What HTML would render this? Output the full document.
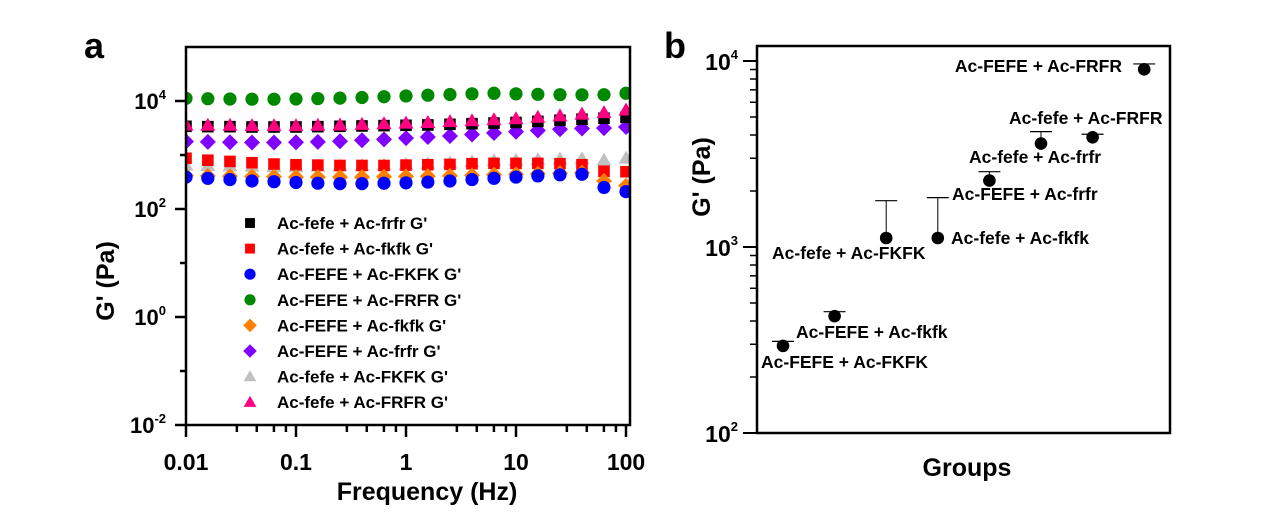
<!DOCTYPE html>
<html><head><meta charset="utf-8"><style>
body{margin:0;background:#fff;}
svg text{font-family:"Liberation Sans",Arial,sans-serif;font-weight:bold;}
</style></head><body>
<svg id="s" width="1271" height="508" xmlns="http://www.w3.org/2000/svg">
<defs><clipPath id="ca"><rect x="186" y="47" width="444" height="378"/></clipPath></defs>
<text x="84" y="58" font-size="36">a</text>
<text x="664" y="58" font-size="36">b</text>
<g id="pa"></g>
<g id="pb"></g>
</svg>
<script>
const freqs=[0.01,0.0158,0.0251,0.0398,0.0631,0.1,0.158,0.251,0.398,0.631,1,1.58,2.51,3.98,6.31,10,15.8,25.1,39.8,63.1,100];
const seriesNames=["Ac-fefe + Ac-frfr G'","Ac-fefe + Ac-fkfk G'","Ac-FEFE + Ac-FKFK G'","Ac-FEFE + Ac-FRFR G'","Ac-FEFE + Ac-fkfk G'","Ac-FEFE + Ac-frfr G'","Ac-fefe + Ac-FKFK G'","Ac-fefe + Ac-FRFR G'"];
const blackVals=[3400,3350,3350,3300,3300,3300,3350,3400,3450,3500,3550,3600,3700,3800,3900,4000,4200,4400,4600,4800,5000];
const redVals=[870,800,760,720,680,660,650,640,640,640,650,660,670,690,700,700,700,690,660,500,490];
const blueVals=[390,370,350,330,320,310,300,295,295,300,305,315,330,350,370,390,410,430,440,250,210];
const greenVals=[11200,11000,10900,10800,10800,10900,11100,11300,11600,12000,12400,12800,13200,13600,13900,13600,13300,13100,13000,13100,13900];
const orangeVals=[415,410,405,400,395,390,390,390,390,395,400,405,410,420,430,440,450,460,470,330,270];
const purpleVals=[1780,1750,1720,1700,1700,1720,1750,1800,1880,1950,2050,2150,2250,2400,2550,2700,2850,3000,3100,3150,3300];
const grayVals=[650,640,630,620,610,610,620,630,640,650,670,690,720,750,780,800,820,840,850,800,870];
const pinkVals=[3600,3550,3550,3500,3500,3500,3550,3600,3700,3800,3900,4000,4150,4300,4500,4700,5000,5300,5700,6100,6800];
const aXTicks=[0.01,0.1,1,10,100];
const aXTickLabels=["0.01","0.1","1","10","100"];
const aYTicks=[-2,0,2,4];

const groupNames=["Ac-FEFE + Ac-FKFK","Ac-FEFE + Ac-fkfk","Ac-fefe + Ac-FKFK","Ac-fefe + Ac-fkfk","Ac-FEFE + Ac-frfr","Ac-fefe + Ac-frfr","Ac-fefe + Ac-FRFR","Ac-FEFE + Ac-FRFR"];
const groupMeans=[294,425,1118,1118,2275,3600,3890,9020];
const groupErrTop=[311,449,1774,1842,2540,4170,4040,9640];
const bYTicks=[2,3,4];

const NS="http://www.w3.org/2000/svg";
function mk(p,t,a){const e=document.createElementNS(NS,t);for(const k in a)e.setAttribute(k,a[k]);p.appendChild(e);return e;}
const A=document.getElementById('pa');
const aL=186,aR=630,aT=47,aB=425;
const ax=v=>186+(Math.log10(v)+2)*110;
const ay=v=>101-(Math.log10(v)-4)*54;
const colors=["#000","#f00","#00f","#080","#ff8000","#8000ff","#c0c0c0","#ff0080"];
const shapes=["sq","sq","ci","ci","di","di","tr","tr"];
const allVals=[blackVals,redVals,blueVals,greenVals,orangeVals,purpleVals,grayVals,pinkVals];
function marker(p,shape,x,y,c,s){let e;
 if(shape==="sq")e=mk(p,'rect',{x:x-5.8*s,y:y-5.8*s,width:11.6*s,height:11.6*s,fill:c});
 else if(shape==="ci")e=mk(p,'circle',{cx:x,cy:y,r:6.6*s,fill:c});
 else if(shape==="di")e=mk(p,'polygon',{points:`${x},${y-8*s} ${x+8*s},${y} ${x},${y+8*s} ${x-8*s},${y}`,fill:c});
 else e=mk(p,'polygon',{points:`${x},${y-7.5*s} ${x+7.5*s},${y+5.5*s} ${x-7.5*s},${y+5.5*s}`,fill:c});
 return e;}
const dg=mk(A,'g',{'clip-path':'url(#ca)'});
const drawOrder=[6,1,4,2,3,5,0,7];
drawOrder.forEach(si=>{const g=mk(dg,'g',{});
 
 
 freqs.forEach((f,i)=>{const m=marker(g,shapes[si],ax(f),ay(allVals[si][i]),colors[si],1);
  
  });
});
mk(A,'rect',{x:aL,y:aT,width:aR-aL,height:aB-aT,fill:'none',stroke:'#000','stroke-width':2.5});
aYTicks.forEach(t=>{const y=ay(Math.pow(10,t));mk(A,'line',{x1:aL-11,x2:aL,y1:y,y2:y,stroke:'#000','stroke-width':2.5});
 const tx=mk(A,'text',{x:aL-20,y:y+8,'font-size':22,'text-anchor':'end'});
 
 
 tx.innerHTML='10<tspan dy="-10" font-size="13">'+t+'</tspan>';});
[-1,1,3].forEach(t=>{const y=ay(Math.pow(10,t));mk(A,'line',{x1:aL-6,x2:aL,y1:y,y2:y,stroke:'#000','stroke-width':2.5});});
aXTicks.forEach((t,i)=>{const x=ax(t);mk(A,'line',{x1:x,x2:x,y1:aB,y2:aB+12,stroke:'#000','stroke-width':2.5});
 const tx=mk(A,'text',{x:x,y:aB+45,'font-size':23,'text-anchor':'middle'});
 
 
 tx.textContent=aXTickLabels[i];
 if(i<4)[2.9,4.4,6.3,8.1].forEach(m=>{const xm=ax(t*m);mk(A,'line',{x1:xm,x2:xm,y1:aB,y2:aB+7,stroke:'#000','stroke-width':2.5});});});
let t=mk(A,'text',{x:427,y:500,'font-size':25,'text-anchor':'middle'});t.textContent='Frequency (Hz)';


t=mk(A,'text',{x:0,y:0,'font-size':25,'text-anchor':'middle',transform:'translate(114,281) rotate(-90)'});t.textContent="G' (Pa)";


const lg=mk(A,'g',{});


seriesNames.forEach((n,i)=>{const y=223+i*25.6;marker(lg,shapes[i],250,y,colors[i],0.85);
 const tx=mk(lg,'text',{x:277,y:y+6,'font-size':17});tx.textContent=n;
 
 });
const B=document.getElementById('pb');
const bL=757,bR=1170,bT=46,bB=433;
const bx=i=>783+i*51.6;
const by=v=>247-(Math.log10(v)-3)*186;
groupMeans.forEach((m,i)=>{const x=bx(i);const yt=by(groupErrTop[i]);
 mk(B,'line',{x1:x,x2:x,y1:by(m),y2:yt,stroke:'#000','stroke-width':1});
 mk(B,'line',{x1:x-11,x2:x+11,y1:yt,y2:yt,stroke:'#000','stroke-width':1.2});
 const c=mk(B,'circle',{cx:x,cy:by(m),r:6.3,fill:'#000'});
 
 });
mk(B,'rect',{x:bL,y:bT,width:bR-bL,height:bB-bT,fill:'none',stroke:'#000','stroke-width':2.5});
bYTicks.forEach(tk=>{const y=by(Math.pow(10,tk));mk(B,'line',{x1:bL-14,x2:bL,y1:y,y2:y,stroke:'#000','stroke-width':2});
 const tx=mk(B,'text',{x:bL-19,y:y+9,'font-size':23,'text-anchor':'end'});
 
 
 tx.innerHTML='10<tspan dy="-11" font-size="13">'+tk+'</tspan>';});
[2,3].forEach(d=>{for(let k=2;k<=9;k++){const y=by(k*Math.pow(10,d));if(y<bT)continue;mk(B,'line',{x1:bL-7,x2:bL,y1:y,y2:y,stroke:'#000','stroke-width':1.5});}});
const labPos=[[761,368,'start'],[796,338,'start'],[772,259,'start'],[951,244,'start'],[952,200,'start'],[969,163,'start'],[1009,124,'start'],[1122,72,'end']];
groupNames.forEach((n,i)=>{const p=labPos[i];const tx=mk(B,'text',{x:p[0],y:p[1],'font-size':17.5,'text-anchor':p[2]});tx.textContent=n;
 
 });
t=mk(B,'text',{x:967,y:476,'font-size':25,'text-anchor':'middle'});t.textContent='Groups';


t=mk(B,'text',{x:0,y:0,'font-size':25,'text-anchor':'middle',transform:'translate(710,177) rotate(-90)'});t.textContent="G' (Pa)";


</script>
</body></html>
